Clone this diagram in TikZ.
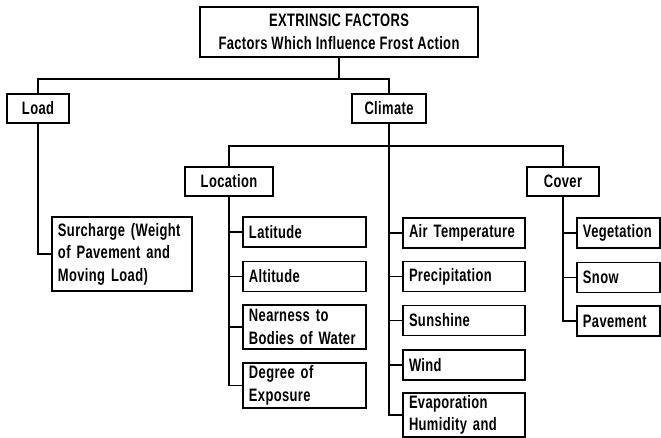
\documentclass[tikz,border=0pt]{standalone}
\usepackage{fontspec}
\setmainfont{Liberation Sans}[FakeStretch=0.72, LetterSpace=2]
\usetikzlibrary{positioning}

\begin{document}
\begin{tikzpicture}[x=0.5pt, y=-0.5pt,
        box/.style={draw, line width=0.8pt, inner xsep=3pt, inner ysep=0pt,
            font=\bfseries\fontsize{9}{11.25}\selectfont},
        head/.style={box, align=center, minimum height=14.5pt},
        leaf/.style={box, align=left, text width=#1, minimum height=15pt},
        wire/.style={line width=0.8pt}]
    \useasboundingbox (0,0) rectangle (661,438);

    % top level
    \node[box, align=center, minimum width=139pt, minimum height=25pt] (top) at (339,32)
        {EXTRINSIC FACTORS\\Factors Which Influence Frost Action};
    \node[head, minimum width=31pt] (load) at (38,108.5) {Load};
    \node[head, minimum width=37pt] (climate) at (389,108.5) {Climate};
    \node[leaf=64pt, minimum height=37pt] (surcharge) at (122,254)
        {Surcharge (Weight\\of Pavement and\\Moving Load)};

    % climate groups
    \node[head, minimum width=44pt] (location) at (229,181.5) {Location};
    \node[head, minimum width=36pt] (cover) at (563,181.5) {Cover};

    \node[leaf=55.5pt] (latitude) at (304.5,232) {Latitude};
    \node[leaf=55.5pt] (altitude) at (304.5,276.5) {Altitude};
    \node[leaf=55.5pt, minimum height=22pt] (nearness) at (304.5,327) {Nearness to\\Bodies of Water};
    \node[leaf=55.5pt, minimum height=22.5pt] (degree) at (304.5,385.5) {Degree of\\Exposure};

    \node[leaf=55pt] (airtemp) at (464,233) {Air Temperature};
    \node[leaf=55pt] (precip) at (464,276.5) {Precipitation};
    \node[leaf=55pt] (sunshine) at (464,320.5) {Sunshine};
    \node[leaf=55pt] (wind) at (464,365) {Wind};
    \node[leaf=55pt, minimum height=22pt] (evap) at (464,415) {Evaporation\\Humidity and};

    \node[leaf=35.5pt] (vegetation) at (618.5,233) {Vegetation};
    \node[leaf=35.5pt] (snow) at (618.5,277.5) {Snow};
    \node[leaf=35.5pt] (pavement) at (618.5,321) {Pavement};

    % connectors
    \coordinate (b1) at (339,79);
    \coordinate (b2) at (389,146);
    \draw[wire] (top.south) -- (b1);
    \draw[wire] (load.north) |- (b1) -| (climate.north);
    \draw[wire] (load.south) |- (surcharge.west);
    \draw[wire] (climate.south) |- (evap.west);
    \draw[wire] (location.north) |- (b2) -| (cover.north);
    \draw[wire] (location.south) |- (degree.west);
    \draw[wire] (cover.south) |- (pavement.west);
    \foreach \n in {latitude, altitude, nearness}
        \draw[wire] (location.south |- \n.west) -- (\n.west);
    \foreach \n in {airtemp, precip, sunshine, wind}
        \draw[wire] (climate.south |- \n.west) -- (\n.west);
    \foreach \n in {vegetation, snow}
        \draw[wire] (cover.south |- \n.west) -- (\n.west);
\end{tikzpicture}
\end{document}
